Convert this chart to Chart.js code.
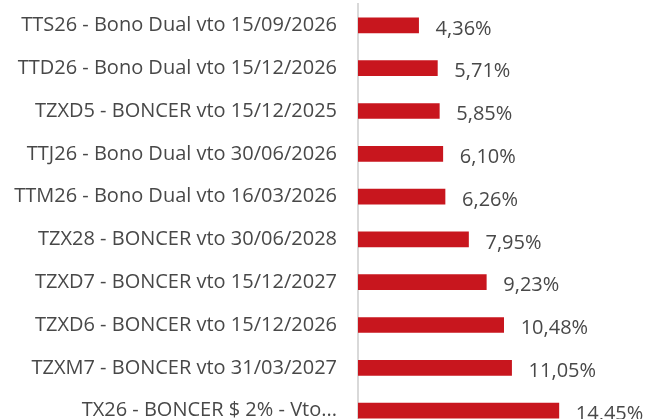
<!DOCTYPE html>
<html>
<head>
<meta charset="utf-8">
<script src="https://cdn.jsdelivr.net/npm/chart.js@4/dist/chart.umd.min.js"></script>
<style>
  html, body { margin: 0; padding: 0; background: #fff; overflow: hidden; }
  canvas { display: block; }
</style>
</head>
<body>
<canvas id="bondChart" width="645" height="432"></canvas>
<script>
// bonos - tasa
var bondLabels = [
  'TTS26 - Bono Dual vto 15/09/2026',
  'TTD26 - Bono Dual vto 15/12/2026',
  'TZXD5 - BONCER vto 15/12/2025',
  'TTJ26 - Bono Dual vto 30/06/2026',
  'TTM26 - Bono Dual vto 16/03/2026',
  'TZX28 - BONCER vto 30/06/2028',
  'TZXD7 - BONCER vto 15/12/2027',
  'TZXD6 - BONCER vto 15/12/2026',
  'TZXM7 - BONCER vto 31/03/2027',
  'TX26 - BONCER $ 2% - Vto...'
];
var bondRates = [4.36, 5.71, 5.85, 6.10, 6.26, 7.95, 9.23, 10.48, 11.05, 14.45];

var textFont = '"Open Sans", sans-serif';
var textColor = '#484848';

// value labels at the end of each bar
var barValueLabels = {
  id: 'barValueLabels',
  afterDatasetsDraw: function(chart) {
    var ctx = chart.ctx;
    var meta = chart.getDatasetMeta(0);
    ctx.save();
    ctx.font = '20px ' + textFont;
    ctx.fillStyle = textColor;
    ctx.textAlign = 'left';
    ctx.textBaseline = 'middle';
    meta.data.forEach(function(bar, i) {
      var txt = bondRates[i].toFixed(2).replace('.', ',') + '%';
      ctx.fillText(txt, bar.x + 17, bar.y + 3.5);
    });
    ctx.restore();
  }
};

var bctx = document.getElementById('bondChart').getContext('2d');
var bondChart = new Chart(bctx, {
  type: 'bar',
  data: {
    labels: bondLabels,
    datasets: [{
      data: bondRates,
      backgroundColor: '#c8161e',
      barThickness: 15
    }]
  },
  options: {
    responsive: false,
    animation: false,
    devicePixelRatio: 1,
    indexAxis: 'y',
    layout: {
      padding: { top: 4, right: 9, bottom: 0, left: 0 }
    },
    plugins: {
      legend: { display: false },
      tooltip: { enabled: false }
    },
    scales: {
      x: {
        display: false,
        min: 0,
        max: 20
      },
      y: {
        afterFit: function(scale) {
          scale.width = 358;
          scale.paddingTop = 0;
          scale.paddingBottom = 0;
        },
        grid: { display: false, drawTicks: true, tickLength: 21 },
        border: { display: true, color: '#d9d9d9', width: 2 },
        ticks: {
          padding: 0,
          color: textColor,
          font: { family: textFont, size: 20 }
        }
      }
    }
  },
  plugins: [barValueLabels]
});
</script>
</body>
</html>
